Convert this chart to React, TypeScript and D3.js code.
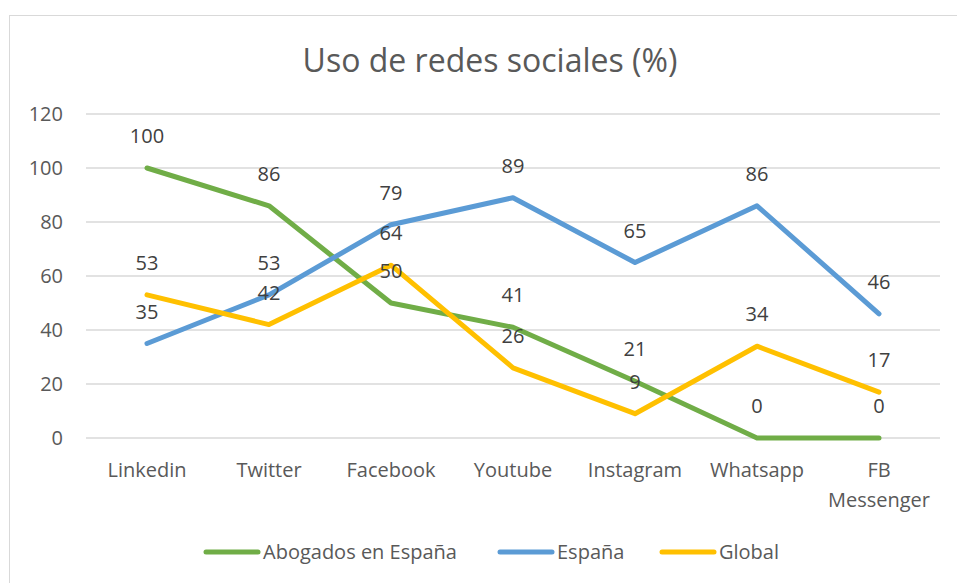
import * as d3 from 'd3';
import React, { useEffect, useRef } from 'react';

const categories = ['Linkedin', 'Twitter', 'Facebook', 'Youtube', 'Instagram', 'Whatsapp', 'FB Messenger'];
const abogados = [100, 86, 50, 41, 21, 0, 0];
const espana = [35, 53, 79, 89, 65, 86, 46];
const global = [53, 42, 64, 26, 9, 34, 17];
const yTicks = [0, 20, 40, 60, 80, 100, 120];

const series = [
  { name: 'Abogados en España', values: abogados, color: '#70AD47' },
  { name: 'España', values: espana, color: '#5B9BD5' },
  { name: 'Global', values: global, color: '#FFC000' },
];

const font = '"Open Sans", "Noto Sans", sans-serif';

export default function App() {
  const svgRef = useRef<SVGSVGElement>(null);
  const width = 957;
  const height = 583;

  useEffect(() => {
    const svg = d3.select(svgRef.current);
    svg.selectAll('*').remove();

    const left = 86;
    const right = 940;
    const top = 114;
    const bottom = 438;

    // frame
    svg.append('rect')
      .attr('x', 9.5).attr('y', 15.5)
      .attr('width', 960).attr('height', 600)
      .attr('fill', '#fff')
      .attr('stroke', '#d9d9d9');

    const x = d3.scaleBand<string>().domain(categories).range([left, right]);
    const y = d3.scaleLinear().domain([0, 120]).range([bottom, top]);
    const cx = (c: string) => (x(c) as number) + x.bandwidth() / 2;

    svg.append('text')
      .attr('x', 490).attr('y', 72)
      .attr('text-anchor', 'middle')
      .style('font-family', font).style('font-size', '32px')
      .attr('fill', '#595959')
      .text('Uso de redes sociales (%)');

    // gridlines
    svg.append('g').selectAll('line')
      .data(yTicks)
      .enter()
      .append('line')
      .attr('x1', left).attr('x2', right)
      .attr('y1', d => y(d)).attr('y2', d => y(d))
      .attr('stroke', '#d9d9d9').attr('stroke-width', 1.3);

    svg.append('g').selectAll('text')
      .data(yTicks)
      .enter()
      .append('text')
      .attr('x', 63).attr('y', d => y(d) + 7)
      .attr('text-anchor', 'end')
      .style('font-family', font).style('font-size', '20px')
      .attr('fill', '#595959')
      .text(d => d);

    // category labels
    const xl = svg.append('g').selectAll('text')
      .data(categories)
      .enter()
      .append('text')
      .attr('x', d => cx(d)).attr('y', 477)
      .attr('text-anchor', 'middle')
      .style('font-family', font).style('font-size', '20px')
      .attr('fill', '#595959');
    xl.each(function (d) {
      const parts = d === 'FB Messenger' ? ['FB', 'Messenger'] : [d];
      parts.forEach((p, i) => {
        d3.select(this).append('tspan')
          .attr('x', cx(d)).attr('dy', i === 0 ? 0 : 30)
          .text(p);
      });
    });

    const line = d3.line<number>()
      .x((_, i) => cx(categories[i]))
      .y(d => y(d));

    series.forEach(s => {
      svg.append('path')
        .datum(s.values)
        .attr('d', line)
        .attr('fill', 'none')
        .attr('stroke', s.color)
        .attr('stroke-width', 5)
        .attr('stroke-linejoin', 'round')
        .attr('stroke-linecap', 'round');
    });

    series.forEach(s => {
      svg.append('g').selectAll('text')
        .data(s.values)
        .enter()
        .append('text')
        .attr('x', (_, i) => cx(categories[i]))
        .attr('y', d => y(d) - 25)
        .attr('text-anchor', 'middle')
        .style('font-family', font).style('font-size', '20px')
        .attr('fill', '#404040')
        .text(d => d);
    });

    // legend
    const legendX = [206, 500, 662];
    series.forEach((s, i) => {
      const g = svg.append('g').attr('transform', `translate(${legendX[i]},552)`);
      g.append('line')
        .attr('x1', 0).attr('x2', 52)
        .attr('stroke', s.color).attr('stroke-width', 5)
        .attr('stroke-linecap', 'round');
      g.append('text')
        .attr('x', 57).attr('y', 7)
        .style('font-family', font).style('font-size', '20px')
        .attr('fill', '#595959')
        .text(s.name);
    });
  }, []);

  return <svg ref={svgRef} width={width} height={height} style={{ display: 'block', position: 'absolute', left: 0, top: 0 }} />;
}
